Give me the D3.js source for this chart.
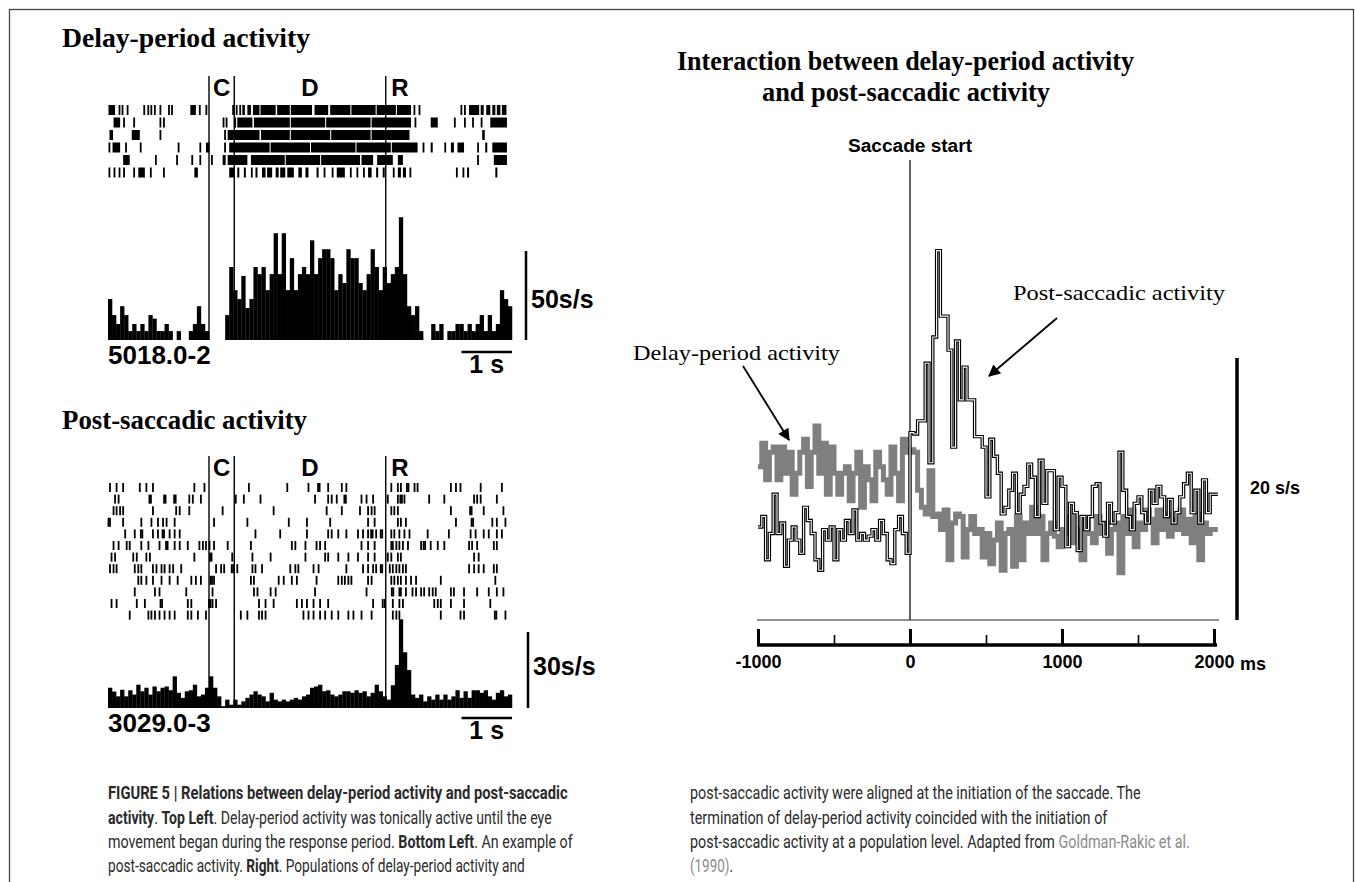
<!DOCTYPE html>
<html><head><meta charset="utf-8">
<script src="https://cdn.jsdelivr.net/npm/d3@7"></script>
<style>body{margin:0;background:#fff}svg{display:block}</style>
</head><body>
<svg id="fig" width="1355" height="882"></svg>
<script>
// ---------------- DATA ----------------
// Left panels: time in s relative to cue onset, bins of 0.08 s starting at -2 s
const markerTimes = [0, 0.5, 3.5];
const markerLabels = [{t:0.25,s:"C"},{t:2.0,s:"D"},{t:3.78,s:"R"}];
const histBinStart = -2, histBinWidth = 0.08;

// Top-left histogram (spikes/s)
const delayHist = [23,14,9,19,14,5,9,5,9,5, 14,12,5,5,9,5,0,5,0,0, 5,9,19,9,5,0,0,0,0,14,
  41,28,23,36,18,23,41,37,41,28, 37,60,37,60,28,46,28,37,41,37, 56,37,46,51,51,46,28,37,32,51,
  46,46,32,28,37,51,41,28,41,32, 37,41,69,37,19,14,19,5,0,0, 9,5,9,0,5,5,9,9,5,9,
  5,9,14,5,14,5,9,28,23,19];

// Bottom-left histogram (spikes/s)
const postHist = [8,6.5,4.6,7.2,4.6,7,5.3,9.2,6.6,8, 5.3,8.5,6.6,8,8.5,7,12.5,6,4,6.6,
  7,9.2,4.6,5.3,8,12.5,8,4.6,0.7,3.3, 1.3,3.3,1.3,2.6,4,5.3,6.6,5.3,4.6,2.6,
  6,3.3,2.6,3.3,2.6,3.3,4,3.3,4.6,5.3, 8,8.5,9.2,6.6,7,5.3,4.6,5.3,6.6,6.6,
  6,7,6,6.6,4.6,6,9.2,6.6,4.6,3.3, 9,17,35,22,15,5.3,4,5.3,2.6,4.6,
  3.3,5.3,3.3,5.3,3.3,4.6,7,4,6.6,4, 7,7,6,7,4.6,3.3,6,7,4.6,5.3];

// Top-left raster: spike runs [start, end] in s, one array per trial
const delayRaster = [
  [[-1.99,-1.86],[-1.79,-1.76],[-1.73,-1.70],[-1.63,-1.60],[-1.30,-1.28],[-1.22,-1.20],[-1.16,-1.14],[-1.09,-1.07],[-0.98,-0.96],[-0.81,-0.79],[-0.75,-0.73],[-0.37,-0.26],[-0.20,-0.18],[-0.07,-0.04],[0.46,0.48],[0.53,0.55],[0.60,0.62],[0.66,0.71],[0.76,0.83],[0.87,1.00],[1.02,1.32],[1.35,1.60],[1.62,2.04],[2.09,2.36],[2.40,2.80],[2.82,3.30],[3.32,3.70],[3.72,4.00],[4.05,4.07],[4.15,4.17],[4.98,5.00],[5.05,5.07],[5.15,5.35],[5.38,5.44],[5.49,5.57],[5.61,5.67],[5.70,5.77],[5.80,5.89]],
  [[-1.89,-1.76],[-1.70,-1.68],[-1.50,-1.48],[-0.98,-0.96],[-0.91,-0.89],[0.27,0.29],[0.33,0.35],[0.50,0.53],[0.56,0.86],[0.89,1.60],[1.62,2.30],[2.32,3.20],[3.22,4.00],[4.07,4.10],[4.39,4.53],[4.85,4.87],[5.05,5.07],[5.21,5.23],[5.38,5.40],[5.57,5.90]],
  [[-1.97,-1.90],[-1.53,-1.37],[-0.98,-0.96],[0.30,0.33],[0.37,1.00],[1.03,1.60],[1.62,2.40],[2.42,3.20],[3.22,3.97],[5.41,5.46]],
  [[-1.99,-1.96],[-1.91,-1.76],[-1.66,-1.64],[-1.37,-1.35],[-0.62,-0.60],[-0.19,-0.17],[-0.06,0.01],[0.30,0.33],[0.40,1.20],[1.22,2.00],[2.02,2.90],[2.92,3.60],[3.62,4.13],[4.23,4.26],[4.39,4.43],[4.66,4.69],[4.79,4.85],[4.92,5.05],[5.31,5.34],[5.47,5.51],[5.61,5.90]],
  [[-1.70,-1.57],[-1.07,-1.05],[-0.65,-0.63],[-0.35,-0.33],[-0.19,-0.17],[0.04,0.07],[0.27,0.33],[0.37,0.76],[0.83,1.50],[1.52,2.20],[2.22,2.99],[3.02,3.25],[3.33,3.64],[3.74,3.84],[5.31,5.34],[5.64,5.90]],
  [[-1.99,-1.96],[-1.89,-1.87],[-1.79,-1.77],[-1.70,-1.67],[-1.50,-1.47],[-1.40,-1.27],[-1.17,-1.15],[-0.91,-0.88],[-0.29,-0.22],[0.40,0.50],[0.56,0.60],[0.69,0.73],[0.83,0.86],[0.92,0.96],[1.05,1.12],[1.15,1.25],[1.32,1.38],[1.41,1.51],[1.55,1.68],[1.77,1.84],[1.91,1.97],[2.13,2.17],[2.27,2.30],[2.43,2.46],[2.53,2.69],[2.79,2.82],[2.92,2.95],[3.05,3.08],[3.15,3.22],[3.31,3.35],[3.44,3.48],[3.64,3.67],[3.74,3.80],[3.84,3.90],[3.97,4.00],[4.89,4.92],[5.02,5.05],[5.11,5.15],[5.67,5.71]]
];

// Bottom-left raster: spike times in s, one array per trial
const postRaster = [
  [-1.96,-1.83,-1.70,-1.37,-1.24,-1.11,-0.29,-0.09,0.79,1.55,1.97,2.16,2.19,2.36,2.63,2.72,3.61,3.74,3.80,3.92,3.95,4.07,4.13,4.79,4.89,4.98,5.38,5.80],
  [-1.86,-1.79,-1.18,-1.15,-0.89,-0.86,-0.69,-0.66,-0.39,-0.32,-0.16,0.53,0.69,1.02,2.10,2.36,2.43,2.53,2.68,2.71,3.02,3.12,3.25,3.54,3.74,3.79,3.82,3.87,4.36,4.66,5.25,5.31,5.38,5.70],
  [-1.89,-1.83,-1.76,-1.70,-1.11,-0.65,-0.58,-0.39,0.27,1.28,2.33,2.63,2.99,3.15,3.22,3.28,3.61,3.67,3.74,4.79,5.17,5.20,5.44,5.83],
  [-1.99,-1.96,-1.70,-1.34,-1.14,-1.01,-0.91,-0.84,-0.68,0.10,0.76,1.58,1.94,2.40,3.15,3.28,3.74,3.80,3.90,4.89,5.20,5.23,5.61,5.70,5.87],
  [-1.66,-1.47,-1.35,-1.32,-1.11,-1.01,-0.92,-0.89,-0.78,-0.68,-0.58,0.92,1.41,1.94,2.36,2.43,2.56,2.72,2.95,3.05,3.15,3.21,3.24,3.31,3.40,3.43,3.61,3.67,3.77,3.87,3.97,4.33,4.75,5.18,5.28,5.44,5.54,5.70,5.80],
  [-1.89,-1.79,-1.63,-1.57,-1.34,-1.20,-0.98,-0.85,-0.82,-0.68,-0.58,-0.42,-0.19,-0.12,-0.06,0.01,0.10,0.37,0.83,1.64,1.71,1.91,2.13,2.20,2.30,3.02,3.15,3.28,3.61,3.64,3.71,3.77,3.84,3.94,4.20,4.25,4.28,4.39,4.53,4.66,5.15,5.21,5.31,5.64,5.70],
  [-1.93,-1.86,-1.50,-1.43,-1.24,-1.17,-0.29,0.02,0.05,0.46,0.86,1.22,1.91,2.30,2.36,2.56,2.76,2.95,3.15,3.28,3.54,3.61,3.74,3.80,5.25,5.34],
  [-1.96,-1.89,-1.83,-1.47,-1.40,-1.34,-1.11,-1.04,-0.94,-0.88,-0.78,-0.71,-0.55,0.14,0.24,0.30,0.45,0.48,0.56,0.86,0.92,1.05,1.61,1.71,1.77,2.07,2.17,2.72,3.05,3.15,3.25,3.31,3.40,3.43,3.58,3.64,3.71,3.77,3.84,3.90,5.15,5.25,5.34,5.44,5.64,5.70],
  [-1.40,-1.34,-1.24,-1.11,-0.94,-0.78,-0.62,-0.35,-0.26,-0.16,0.03,0.06,0.10,0.83,0.89,1.38,1.48,1.64,1.74,2.13,2.56,2.63,2.69,2.76,2.82,3.15,3.22,3.61,3.67,3.74,3.80,3.90,4.00,4.10,4.59,5.67],
  [-1.47,-1.07,-0.98,-0.45,0.07,0.89,0.96,1.22,1.32,2.10,3.12,3.62,3.65,3.77,3.80,3.90,4.03,4.10,4.20,4.26,4.36,4.43,4.49,4.79,4.85,5.05,5.31,5.54,5.70,5.83],
  [-1.93,-1.83,-1.43,-1.27,-0.96,-0.93,-0.42,-0.35,0.00,0.03,0.07,0.14,0.99,1.12,1.28,1.74,1.84,1.94,2.07,2.20,2.36,3.25,3.44,3.48,3.64,3.77,3.84,4.46,4.53,4.59,4.79,5.05,5.57],
  [-1.57,-1.20,-1.14,-1.07,-0.98,-0.88,-0.78,-0.68,-0.42,-0.35,-0.22,-0.06,0.63,0.76,0.99,1.05,1.12,1.87,1.97,2.07,2.20,2.30,2.43,2.56,2.76,2.86,3.02,3.22,3.64,3.71,3.77,4.59,4.98,5.05,5.66,5.69,5.87]
];

// Right panel: population histograms, ms relative to saccade start, 25 ms bins from -1000
const popBinStart = -1000, popBinWidth = 25;
const delayPop = [11.7,13.5,10.7,12.8,13.2,10.7,13.2,11.2,12.8,9.6, 11.2,12.8,13.8,10.2,12.8,14.8,11.2,13.5,9.6,13.2,
  11.2,9.6,11.2,11.7,9.1,11.2,12.8,8.6,11.7,10.7, 9.1,12.8,11.7,10.7,9.6,13.2,11.2,9.1,13.8,12.8,
  13,12.8,9.9,8.6,8.1,11.4,7.9,8.1,6.9,8.4, 4.6,7.4,8.1,7.9,4.8,6.9,7.9,6.6,6.9,4.8,
  6.6,4.3,6.1,7.4,3.8,6.6,6.9,4.1,7.9,4.6, 7.4,6.6,8.6,6.6,7.9,4.6,6.6,7.4,6.4,5.6,
  6.9,6.6,7.9,5.9,6.9,4.6,7.7,6.6,5.9,7.9, 6.6,7.4,5.1,6.9,7.4,3.6,7.9,6.6,8.4,5.6,
  7.4,6.9,8.4,7.7,5.9,8.4,6.9,8.1,6.4,7.7, 6.9,8.4,6.6,7.7,5.9,8.1,4.6,7.4,6.6,6.9,6.9];
const postPop = [7.1,7.9,4.6,6.6,9.6,6.6,7.4,4.1,6.1,7.1, 6.1,5.1,8.6,7.6,6.6,4.6,3.8,6.9,6.1,7.1,
  4.6,6.9,6.1,7.6,6.6,8.4,6.1,6.6,6.1,6.4, 6.9,6.1,7.6,6.6,4.6,4.3,6.9,7.9,6.6,5.1,
  14.3,14.2,15.2,15.2,19.6,12,21.6,28.2,23.2,23.2, 20.6,13.2,21.3,16.8,19.3,16.8,16.8,14,14,13.2,
  9.4,13.8,12.5,11.2,8.1,8.6,9.9,11.2,8.2,9.6, 10.2,11.9,10.9,7.9,12.2,8.9,11.4,11.4,6.9,10.9,
  10.2,5.6,8.9,8.2,5.3,7.9,6.9,7.9,10.2,10.4, 7.4,6.4,8.9,7.4,8.2,12.8,9.9,7.9,6.9,8.9,
  9.4,8.2,7.4,9.9,8.9,10.2,9.4,7.9,9.2,7.4, 8.2,9.4,10.4,11.2,8.2,9.9,7.4,10.7,8.2,9.6,9.6];
const popTicksMajor = [-1000, 0, 1000, 2000];
const popTicksMinor = [-500, 500, 1500];

// Captions
const captionLeft = [
  [["FIGURE 5 | Relations between delay-period activity and post-saccadic","b"]],
  [["activity","b"],[". ","n"],["Top Left","b"],[". Delay-period activity was tonically active until the eye","n"]],
  [["movement began during the response period. ","n"],["Bottom Left","b"],[". An example of","n"]],
  [["post-saccadic activity. ","n"],["Right","b"],[". Populations of delay-period activity and","n"]]
];
const captionRight = [
  [["post-saccadic activity were aligned at the initiation of the saccade. The","n"]],
  [["termination of delay-period activity coincided with the initiation of","n"]],
  [["post-saccadic activity at a population level. Adapted from ","n"],["Goldman-Rakic et al.","l"]],
  [["(1990)","l"],[".","n"]]
];

// ---------------- DRAWING ----------------
const svg = d3.select("#fig");
const SERIF = "'Liberation Serif','Times New Roman',serif";
const SANS = "'Liberation Sans',Arial,Helvetica,sans-serif";

svg.append("rect").attr("x",9.5).attr("y",9.5).attr("width",1344).attr("height",900)
  .attr("fill","none").attr("stroke","#444").attr("stroke-width",1.3);

const xL = d3.scaleLinear().domain([-2, 6]).range([108, 512]);

function leftPanel(opts) {
  const g = svg.append("g");
  g.append("text").attr("x",62).attr("y",opts.titleY).text(opts.title)
    .attr("font-family",SERIF).attr("font-weight","bold").attr("font-size",27)
    .attr("textLength",opts.titleW).attr("lengthAdjust","spacingAndGlyphs");
  const y = d3.scaleLinear().domain([0, opts.scaleVal]).range([opts.base, opts.base - opts.scalePx]);
  const bw = xL(histBinWidth) - xL(0);
  g.selectAll("rect.bar").data(opts.hist).join("rect").attr("class","bar")
    .attr("x",(d,i)=>xL(histBinStart + i*histBinWidth))
    .attr("width",bw+0.25)
    .attr("y",d=>y(d)).attr("height",d=>y(0)-y(d)).attr("fill","#000");
  opts.raster.forEach((row,ri)=>{
    const ry = opts.rasterTop + ri*opts.rasterPitch;
    g.selectAll(null).data(row).join("rect")
      .attr("x",d=>Array.isArray(d)?xL(d[0]):xL(d)-0.9)
      .attr("width",d=>Array.isArray(d)?Math.max(1.8,xL(d[1])-xL(d[0])):1.8)
      .attr("y",ry).attr("height",opts.rasterH).attr("fill","#000");
  });
  g.selectAll("line.mk").data(markerTimes).join("line").attr("class","mk")
    .attr("x1",d=>xL(d)).attr("x2",d=>xL(d))
    .attr("y1",opts.markTop).attr("y2",opts.base)
    .attr("stroke","#000").attr("stroke-width",1.4);
  g.selectAll("text.ml").data(markerLabels).join("text").attr("class","ml")
    .attr("x",d=>xL(d.t)).attr("y",opts.labelY).attr("text-anchor","middle")
    .attr("font-family",SANS).attr("font-weight","bold").attr("font-size",24).text(d=>d.s);
  g.append("line").attr("x1",opts.barX).attr("x2",opts.barX)
    .attr("y1",y(0)).attr("y2",y(opts.scaleVal)).attr("stroke","#000").attr("stroke-width",2.5);
  g.append("text").attr("x",opts.barX+5).attr("y",opts.scaleTextY).text(opts.scaleVal+"s/s")
    .attr("font-family",SANS).attr("font-weight","bold").attr("font-size",25);
  g.append("text").attr("x",108).attr("y",opts.idY).text(opts.id)
    .attr("font-family",SANS).attr("font-weight","bold").attr("font-size",26);
  g.append("line").attr("x1",xL(5)).attr("x2",xL(6)).attr("y1",opts.secY).attr("y2",opts.secY)
    .attr("stroke","#000").attr("stroke-width",2.5);
  g.append("text").attr("x",(xL(5)+xL(6))/2).attr("y",opts.secY+21).attr("text-anchor","middle")
    .attr("font-family",SANS).attr("font-weight","bold").attr("font-size",25).text("1 s");
}

leftPanel({title:"Delay-period activity", titleY:47, titleW:248, hist:delayHist, raster:delayRaster,
  base:340, scaleVal:50, scalePx:89, rasterTop:105, rasterPitch:12.5, rasterH:10,
  markTop:76, labelY:96, barX:526, scaleTextY:308, id:"5018.0-2", idY:364, secY:352});
leftPanel({title:"Post-saccadic activity", titleY:429, titleW:245, hist:postHist, raster:postRaster,
  base:708, scaleVal:30, scalePx:76, rasterTop:483, rasterPitch:11.6, rasterH:9,
  markTop:456, labelY:476, barX:528, scaleTextY:675, id:"3029.0-3", idY:732, secY:718});

// ---------------- Right panel ----------------
const xR = d3.scaleLinear().domain([-1000, 2000]).range([758, 1214]);
const yR = d3.scaleLinear().domain([0, 20]).range([620, 358]);
const gR = svg.append("g");

gR.append("text").attr("x",677).attr("y",70).text("Interaction between delay-period activity")
  .attr("font-family",SERIF).attr("font-weight","bold").attr("font-size",27)
  .attr("textLength",457).attr("lengthAdjust","spacingAndGlyphs");
gR.append("text").attr("x",762).attr("y",101).text("and post-saccadic activity")
  .attr("font-family",SERIF).attr("font-weight","bold").attr("font-size",27)
  .attr("textLength",288).attr("lengthAdjust","spacingAndGlyphs");

gR.append("text").attr("x",xR(0)).attr("y",152).attr("text-anchor","middle").text("Saccade start")
  .attr("font-family",SANS).attr("font-weight","bold").attr("font-size",18)
  .attr("textLength",124).attr("lengthAdjust","spacingAndGlyphs");

gR.append("line").attr("x1",757).attr("x2",1219).attr("y1",yR(0)).attr("y2",yR(0))
  .attr("stroke","#222").attr("stroke-width",1.2);
gR.append("line").attr("x1",xR(0)).attr("x2",xR(0)).attr("y1",160).attr("y2",yR(0))
  .attr("stroke","#222").attr("stroke-width",1.4);

function stepPts(vals){
  const pts = vals.map((v,i)=>[popBinStart+i*popBinWidth, v]);
  pts.push([popBinStart+vals.length*popBinWidth, vals[vals.length-1]]);
  return pts;
}
const line = d3.line().x(d=>xR(d[0])).y(d=>yR(d[1])).curve(d3.curveStepAfter);
gR.append("path").attr("d",line(stepPts(delayPop))).attr("fill","none")
  .attr("stroke","#7f7f7f").attr("stroke-width",5);
gR.append("path").attr("d",line(stepPts(postPop))).attr("fill","none")
  .attr("stroke","#000").attr("stroke-width",3.4).attr("stroke-linejoin","miter");
gR.append("path").attr("d",line(stepPts(postPop))).attr("fill","none")
  .attr("stroke","#fff").attr("stroke-width",1.1);

const axY = 645;
const axMaj = d3.axisBottom(xR).tickValues(popTicksMajor).tickSize(-16).tickSizeOuter(0).tickPadding(10)
  .tickFormat(d=>String(d));
const gAx = gR.append("g").attr("transform",`translate(0,${axY})`).call(axMaj);
gAx.select(".domain").attr("stroke","#000").attr("stroke-width",3.5).attr("d",`M757,0H1217`);
gAx.selectAll(".tick line").attr("stroke","#000").attr("stroke-width",3);
gAx.selectAll(".tick text").attr("font-family",SANS).attr("font-weight","bold").attr("font-size",18).attr("fill","#000");
const axMin = d3.axisBottom(xR).tickValues(popTicksMinor).tickSize(-10).tickFormat("");
const gAx2 = gR.append("g").attr("transform",`translate(0,${axY})`).call(axMin);
gAx2.select(".domain").remove();
gAx2.selectAll(".tick line").attr("stroke","#000").attr("stroke-width",1.6);
gR.append("text").attr("x",xR(2000)+26).attr("y",axY+25).text("ms")
  .attr("font-family",SANS).attr("font-weight","bold").attr("font-size",18);

gR.append("line").attr("x1",1237).attr("x2",1237).attr("y1",yR(0)).attr("y2",yR(20))
  .attr("stroke","#000").attr("stroke-width",3.5);
gR.append("text").attr("x",1250).attr("y",494).text("20 s/s")
  .attr("font-family",SANS).attr("font-weight","bold").attr("font-size",18);

const defs = svg.append("defs");
defs.append("marker").attr("id","ah").attr("viewBox","0 0 10 10").attr("refX",9).attr("refY",5)
  .attr("markerWidth",14).attr("markerHeight",12).attr("markerUnits","userSpaceOnUse")
  .attr("orient","auto")
  .append("path").attr("d","M0,0L10,5L0,10z").attr("fill","#000");

gR.append("text").attr("x",1013).attr("y",300).text("Post-saccadic activity")
  .attr("font-family",SERIF).attr("font-size",22).attr("textLength",212).attr("lengthAdjust","spacingAndGlyphs");
gR.append("line").attr("x1",1057).attr("y1",318).attr("x2",989).attr("y2",376)
  .attr("stroke","#000").attr("stroke-width",1.8).attr("marker-end","url(#ah)");
gR.append("text").attr("x",633).attr("y",360).text("Delay-period activity")
  .attr("font-family",SERIF).attr("font-size",22).attr("textLength",207).attr("lengthAdjust","spacingAndGlyphs");
gR.append("line").attr("x1",743).attr("y1",366).attr("x2",789).attr("y2",440)
  .attr("stroke","#000").attr("stroke-width",1.8).attr("marker-end","url(#ah)");

// ---------------- Caption ----------------
function caption(lines, x0, widths){
  const base = [799, 824, 848, 872];
  lines.forEach((ln,i)=>{
    const g = svg.append("g");
    const t = g.append("text").attr("x",0).attr("y",0)
      .attr("font-family","Roboto,'Liberation Sans',sans-serif").attr("font-size",17.5)
      .attr("fill","#2a2a2a");
    ln.forEach(([s,st])=>{
      t.append("tspan").text(s)
        .attr("font-weight",st==="b"?"bold":"normal")
        .attr("fill",st==="l"?"#8a8a8a":"#2a2a2a");
    });
    const w = t.node().getComputedTextLength();
    g.attr("transform",`translate(${x0},${base[i]}) scale(${widths[i]/w},1)`);
  });
}
caption(captionLeft, 108, [460, 444, 465, 417]);
caption(captionRight, 690, [451, 418, 500, 43]);
</script>
</body></html>
